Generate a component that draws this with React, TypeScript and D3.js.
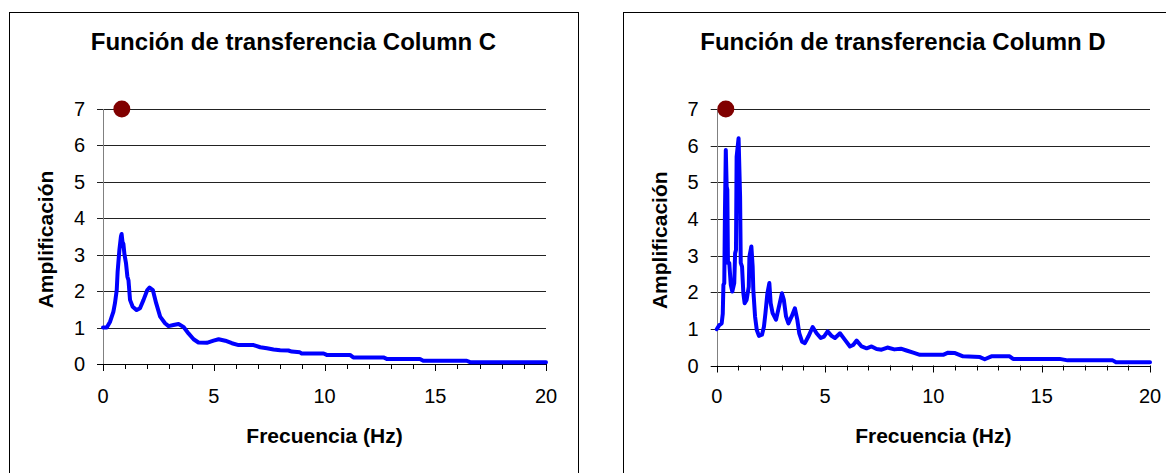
import React from "react";
import * as d3 from "d3";

// Column C transfer function (Hz, amplification)
const freqC = [0, 0.17, 0.32, 0.47, 0.54, 0.62, 0.66, 0.74, 0.81, 0.84, 0.88, 0.92, 0.97, 1.04, 1.1, 1.15, 1.22, 1.34, 1.52, 1.67, 1.83, 2.0, 2.1, 2.25, 2.4, 2.58, 2.8, 2.96, 3.18, 3.41, 3.63, 3.86, 4.09, 4.31, 4.69, 4.99, 5.22, 5.52, 5.82, 6.12, 6.8, 7.1, 7.4, 7.7, 8.0, 8.37, 8.52, 8.89, 8.97, 9.96, 10.1, 11.15, 11.3, 12.66, 12.81, 14.31, 14.46, 16.42, 16.57, 20];
const ampC = [1.0, 1.0, 1.16, 1.44, 1.67, 2.03, 2.53, 3.13, 3.5, 3.57, 3.35, 3.3, 3.0, 2.76, 2.4, 2.3, 1.76, 1.57, 1.48, 1.53, 1.76, 2.03, 2.1, 2.03, 1.67, 1.3, 1.12, 1.04, 1.07, 1.1, 1.02, 0.84, 0.68, 0.59, 0.58, 0.64, 0.68, 0.64, 0.57, 0.52, 0.52, 0.46, 0.43, 0.4, 0.38, 0.37, 0.34, 0.32, 0.29, 0.29, 0.25, 0.25, 0.18, 0.18, 0.14, 0.14, 0.09, 0.09, 0.05, 0.05];

// Column D transfer function
const freqD = [0, 0.12, 0.23, 0.28, 0.31, 0.35, 0.38, 0.42, 0.46, 0.49, 0.52, 0.58, 0.65, 0.72, 0.81, 0.85, 0.89, 0.92, 1.01, 1.08, 1.11, 1.17, 1.23, 1.29, 1.38, 1.48, 1.51, 1.6, 1.66, 1.69, 1.77, 1.85, 1.95, 2.09, 2.18, 2.25, 2.34, 2.43, 2.49, 2.58, 2.74, 2.84, 3.01, 3.1, 3.2, 3.31, 3.46, 3.61, 3.72, 3.81, 3.94, 4.07, 4.23, 4.43, 4.61, 4.8, 4.95, 5.12, 5.3, 5.46, 5.69, 5.92, 6.15, 6.3, 6.46, 6.69, 6.92, 7.15, 7.38, 7.61, 7.88, 8.2, 8.5, 8.76, 9.07, 9.38, 10.45, 10.68, 11.0, 11.37, 12.15, 12.37, 12.68, 13.52, 13.68, 15.83, 16.2, 18.28, 18.43, 20];
const ampD = [0.99, 1.1, 1.15, 1.41, 2.2, 2.25, 4.15, 5.88, 4.88, 4.8, 2.8, 2.8, 2.2, 2.02, 2.25, 3.06, 3.15, 5.7, 6.2, 4.6, 2.8, 2.7, 1.97, 1.7, 1.79, 2.15, 2.97, 3.25, 2.7, 2.06, 1.34, 0.97, 0.81, 0.84, 1.06, 1.43, 1.97, 2.25, 1.7, 1.43, 1.25, 1.52, 1.97, 1.79, 1.34, 1.15, 1.34, 1.56, 1.25, 0.88, 0.65, 0.61, 0.79, 1.05, 0.88, 0.75, 0.79, 0.93, 0.81, 0.75, 0.88, 0.7, 0.52, 0.56, 0.68, 0.52, 0.47, 0.52, 0.45, 0.43, 0.49, 0.44, 0.46, 0.41, 0.35, 0.29, 0.29, 0.35, 0.34, 0.25, 0.23, 0.17, 0.25, 0.25, 0.18, 0.18, 0.14, 0.14, 0.09, 0.09];

// single marker point of each chart
const markerC = [0.85, 7];
const markerD = [0.42, 7];

const yTicks = [0, 1, 2, 3, 4, 5, 6, 7];
const xMinorTicks = d3.range(0, 21, 1);
const xLabelTicks = [0, 5, 10, 15, 20];

const FONT = "'Liberation Sans', Arial, Helvetica, sans-serif";

type Props = {
  title: string;
  freq: number[];
  amp: number[];
  marker: number[];
  frameX: number;
  frameW: number;
  x0: number;
  x1: number;
  y0: number;
  y1: number;
};

function TransferChart({ title, freq, amp, marker, frameX, frameW, x0, x1, y0, y1 }: Props) {
  const x = d3.scaleLinear().domain([0, 20]).range([x0, x1]);
  const y = d3.scaleLinear().domain([0, 7]).range([y0, y1]);
  const pts = freq.map((f, i) => [f, amp[i]] as [number, number]);
  const line = d3
    .line<[number, number]>()
    .x((d) => x(d[0]))
    .y((d) => y(d[1]));

  const midPlot = (x0 + x1) / 2;
  const midY = (y0 + y1) / 2;

  return (
    <g>
      <rect x={frameX + 0.5} y={12.5} width={frameW} height={480} fill="#fff" stroke="#000" strokeWidth={1} />
      <text x={frameX + frameW / 2} y={50} textAnchor="middle" fontFamily={FONT} fontWeight="bold" fontSize={24}>
        {title}
      </text>

      {/* gridlines */}
      {yTicks.map((t) => (
        <line key={"g" + t} x1={x0 - 6} x2={x1} y1={Math.round(y(t)) + 0.5} y2={Math.round(y(t)) + 0.5} stroke={t === 0 ? "#000" : "#222"} strokeWidth={1} />
      ))}
      {/* y axis */}
      <line x1={Math.round(x0) + 0.5} x2={Math.round(x0) + 0.5} y1={y1} y2={y0} stroke="#808080" strokeWidth={1} />
      {yTicks.map((t) => (
        <text key={"yl" + t} x={x0 - 18} y={y(t) + 7} textAnchor="end" fontFamily={FONT} fontSize={20}>
          {t}
        </text>
      ))}
      {/* x ticks */}
      {xMinorTicks.map((t) => (
        <line key={"xt" + t} x1={Math.round(x(t)) + 0.5} x2={Math.round(x(t)) + 0.5} y1={y0} y2={y0 + (t % 5 === 0 ? 7 : 5)} stroke="#000" strokeWidth={1} />
      ))}
      {xLabelTicks.map((t) => (
        <text key={"xl" + t} x={x(t)} y={403} textAnchor="middle" fontFamily={FONT} fontSize={20}>
          {t}
        </text>
      ))}

      <path d={line(pts) || ""} fill="none" stroke="#0000ff" strokeWidth={4} strokeLinejoin="round" strokeLinecap="round" />
      <circle cx={x(marker[0])} cy={y(marker[1])} r={8.5} fill="#800000" />

      <text x={midPlot} y={443} textAnchor="middle" fontFamily={FONT} fontWeight="bold" fontSize={21}>
        Frecuencia (Hz)
      </text>
      <text
        transform={`translate(${x0 - 50},${midY + 3}) rotate(-90)`}
        textAnchor="middle"
        fontFamily={FONT}
        fontWeight="bold"
        fontSize={21}
      >
        Amplificación
      </text>
    </g>
  );
}

export default function App() {
  return (
    <svg width={1166} height={473} style={{ position: "absolute", left: 0, top: 0, background: "#fff" }}>
      <rect width={1166} height={473} fill="#fff" />
      <TransferChart
        title="Función de transferencia Column C"
        freq={freqC}
        amp={ampC}
        marker={markerC}
        frameX={9}
        frameW={569}
        x0={103}
        x1={546}
        y0={364}
        y1={109}
      />
      <TransferChart
        title="Función de transferencia Column D"
        freq={freqD}
        amp={ampD}
        marker={markerD}
        frameX={623}
        frameW={560}
        x0={716.7}
        x1={1150}
        y0={365.5}
        y1={109}
      />
    </svg>
  );
}
